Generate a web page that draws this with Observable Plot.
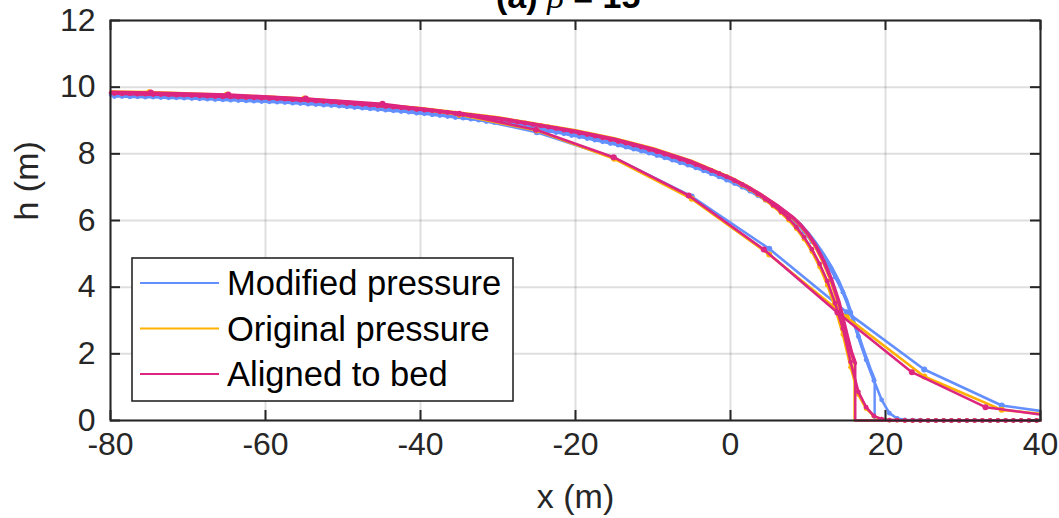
<!DOCTYPE html>
<html><head><meta charset="utf-8">
<script src="https://cdn.jsdelivr.net/npm/d3@7"></script>
<script src="https://cdn.jsdelivr.net/npm/@observablehq/plot@0.6"></script>
<style>
body{margin:0;background:#fff;}
#chart{position:relative;width:1059px;height:518px;overflow:hidden;}
</style>
</head><body><div id="chart"></div>
<script>
// ---------------- data ----------------
const seriesNames = ["Modified pressure", "Original pressure", "Aligned to bed"];
const seriesColors = ["#648FFF", "#FFB000", "#DC267F"];
const xTicks = [-80, -60, -40, -20, 0, 20, 40];
const yTicks = [0, 2, 4, 6, 8, 10, 12];
const titleText = ["(a) ", "β", " = 15°"];

// coarse grid (10 m cells)
const coarseXMod = [-85, -75, -65, -55, -45, -35, -25, -15, -5, 5, 15, 25, 35, 45];
const coarseHMod = [9.84, 9.80, 9.74, 9.63, 9.45, 9.15, 8.65, 7.88, 6.72, 5.15, 3.25, 1.53, 0.45, 0.12];
const coarseXOrig = [-85, -75, -65, -55, -45, -35, -25, -15, -5, 5, 15, 25, 35, 45];
const coarseHOrig = [9.88, 9.85, 9.77, 9.66, 9.48, 9.17, 8.70, 7.85, 6.65, 4.98, 3.10, 1.32, 0.32, 0.08];
const coarseXBed = [-85, -74.8, -64.8, -54.8, -44.9, -35, -25.1, -15.1, -5.4, 4.3, 13.8, 23.4, 32.9, 42.5];
const coarseHBed = [9.88, 9.84, 9.78, 9.66, 9.50, 9.20, 8.72, 7.90, 6.75, 5.13, 3.24, 1.45, 0.40, 0.10];

// medium grid (1 m cells, centres -79.5 ... 39.5)
const medX = d3.range(-79.5, 40, 1);
const medHMod = [
  9.72, 9.72, 9.71, 9.71, 9.70, 9.70, 9.69, 9.68, 9.68, 9.67,
  9.66, 9.65, 9.64, 9.63, 9.62, 9.61, 9.60, 9.59, 9.58, 9.57,
  9.56, 9.55, 9.54, 9.52, 9.51, 9.49, 9.48, 9.46, 9.45, 9.43,
  9.41, 9.39, 9.37, 9.35, 9.33, 9.31, 9.29, 9.27, 9.25, 9.22,
  9.20, 9.17, 9.15, 9.12, 9.09, 9.07, 9.04, 9.01, 8.97, 8.94,
  8.91, 8.87, 8.84, 8.80, 8.76, 8.72, 8.68, 8.64, 8.60, 8.55,
  8.51, 8.46, 8.41, 8.36, 8.31, 8.26, 8.20, 8.14, 8.08, 8.02,
  7.95, 7.88, 7.81, 7.73, 7.66, 7.58, 7.49, 7.40, 7.31, 7.21,
  7.11, 7.00, 6.88, 6.75, 6.61, 6.46, 6.30, 6.12, 5.92, 5.66,
  5.36, 5.03, 4.68, 4.30, 3.85, 3.25, 2.52, 1.82, 1.20, 0.62,
  0.22, 0.06, 0.02, 0.01, 0.01, 0, 0, 0, 0, 0,
  0, 0, 0, 0, 0, 0, 0, 0, 0, 0
];
const medHOrig = [
  9.82, 9.81, 9.81, 9.80, 9.80, 9.79, 9.79, 9.78, 9.77, 9.77,
  9.76, 9.75, 9.74, 9.73, 9.72, 9.72, 9.71, 9.70, 9.69, 9.68,
  9.67, 9.66, 9.65, 9.63, 9.62, 9.61, 9.59, 9.58, 9.56, 9.54,
  9.52, 9.51, 9.49, 9.47, 9.45, 9.43, 9.41, 9.39, 9.37, 9.34,
  9.32, 9.30, 9.27, 9.25, 9.22, 9.19, 9.16, 9.13, 9.10, 9.07,
  9.03, 9.00, 8.96, 8.93, 8.89, 8.85, 8.81, 8.77, 8.72, 8.68,
  8.63, 8.59, 8.54, 8.49, 8.44, 8.38, 8.33, 8.27, 8.21, 8.14,
  8.07, 8.00, 7.93, 7.85, 7.77, 7.69, 7.60, 7.51, 7.42, 7.32,
  7.19, 7.06, 6.93, 6.78, 6.61, 6.43, 6.23, 6.01, 5.75, 5.44,
  5.07, 4.61, 4.06, 3.38, 2.58, 1.60, 0.78, 0.36, 0.13, 0.04,
  0.01, 0.01, 0, 0, 0, 0, 0, 0, 0, 0,
  0, 0, 0, 0, 0, 0, 0, 0, 0, 0
];
const medHBed = [
  9.81, 9.80, 9.80, 9.79, 9.79, 9.78, 9.78, 9.77, 9.76, 9.76,
  9.75, 9.74, 9.73, 9.72, 9.71, 9.71, 9.70, 9.69, 9.68, 9.67,
  9.66, 9.65, 9.64, 9.62, 9.61, 9.60, 9.58, 9.57, 9.55, 9.53,
  9.51, 9.50, 9.48, 9.46, 9.44, 9.42, 9.40, 9.38, 9.36, 9.33,
  9.31, 9.29, 9.26, 9.24, 9.21, 9.18, 9.15, 9.12, 9.09, 9.06,
  9.02, 8.99, 8.95, 8.92, 8.88, 8.84, 8.80, 8.76, 8.71, 8.67,
  8.62, 8.58, 8.53, 8.48, 8.43, 8.37, 8.32, 8.26, 8.20, 8.13,
  8.06, 7.99, 7.92, 7.84, 7.76, 7.68, 7.59, 7.50, 7.41, 7.31,
  7.20, 7.08, 6.95, 6.80, 6.64, 6.46, 6.27, 6.06, 5.80, 5.50,
  5.14, 4.70, 4.18, 3.52, 2.76, 1.76, 0.86, 0.40, 0.14, 0.04,
  0.01, 0.01, 0, 0, 0, 0, 0, 0, 0, 0,
  0, 0, 0, 0, 0, 0, 0, 0, 0, 0
];

// fine grid (drawn as line only; sharp front)
const fineXMod = [-80, -70, -60, -50, -40, -30, -20, -15, -10, -5, 0, 2, 4, 6, 8, 9, 10, 11, 12, 13, 14, 15, 16, 17, 18, 18.6, 18.6, 40];
const fineHMod = [9.77, 9.70, 9.61, 9.47, 9.26, 8.97, 8.58, 8.34, 8.04, 7.68, 7.20, 6.97, 6.70, 6.42, 6.08, 5.88, 5.62, 5.32, 4.98, 4.60, 4.15, 3.60, 2.90, 2.20, 1.55, 1.20, 0, 0];
const fineXOrig = [-80, -70, -60, -50, -40, -30, -20, -15, -10, -5, 0, 2, 4, 6, 8, 9, 10, 11, 12, 13, 14, 15, 15.5, 16.0, 16.0, 40];
const fineHOrig = [9.84, 9.78, 9.70, 9.56, 9.36, 9.08, 8.69, 8.45, 8.15, 7.77, 7.28, 7.04, 6.76, 6.44, 6.08, 5.86, 5.57, 5.21, 4.75, 4.18, 3.45, 2.50, 2.08, 1.75, 0, 0];
const fineXBed = [-80, -70, -60, -50, -40, -30, -20, -15, -10, -5, 0, 2, 4, 6, 8, 9, 10, 11, 12, 13, 14, 15, 15.6, 16.1, 16.1, 40];
const fineHBed = [9.83, 9.77, 9.69, 9.55, 9.35, 9.07, 8.68, 8.44, 8.14, 7.76, 7.27, 7.03, 6.76, 6.45, 6.10, 5.88, 5.60, 5.25, 4.80, 4.25, 3.55, 2.60, 2.05, 1.72, 0, 0];

// ---------------- tables ----------------
const coarseX = [coarseXMod, coarseXOrig, coarseXBed];
const coarseH = [coarseHMod, coarseHOrig, coarseHBed];
const medH = [medHMod, medHOrig, medHBed];
const fineX = [fineXMod, fineXOrig, fineXBed];
const fineH = [fineHMod, fineHOrig, fineHBed];

const axisColor = "#262626";
const font = "'Liberation Sans', Arial, Helvetica, sans-serif";

const marks = [
  Plot.gridX(xTicks, {stroke: axisColor, strokeOpacity: 0.15, strokeWidth: 2}),
  Plot.gridY(yTicks, {stroke: axisColor, strokeOpacity: 0.15, strokeWidth: 2})
];

seriesNames.forEach((name, i) => {
  const color = seriesColors[i];
  const coarse = coarseX[i].map((x, j) => ({x, h: coarseH[i][j]}));
  const med = medX.map((x, j) => ({x, h: medH[i][j]}));
  const fine = fineX[i].map((x, j) => ({x, h: fineH[i][j]}));
  const fineUpper = fine.slice(0, fine.length - 2);
  marks.push(
    Plot.line(coarse, {x: "x", y: "h", stroke: color, strokeWidth: 2.6, clip: true}),
    Plot.dot(coarse, {x: "x", y: "h", fill: color, r: 3, clip: true}),
    Plot.line(med, {x: "x", y: "h", stroke: color, strokeWidth: 2.6}),
    Plot.dot(med, {x: "x", y: "h", fill: color, r: 2.4}),
    Plot.line(fine, {x: "x", y: "h", stroke: color, strokeWidth: 2.4}),
    Plot.line(fineUpper, {x: "x", y: "h", stroke: color, strokeWidth: 3.6})
  );
});

marks.push(
  Plot.frame({stroke: axisColor, strokeWidth: 2}),
  Plot.tickX(xTicks, {x: d => d, stroke: axisColor, strokeWidth: 2, insetTop: 390}),
  Plot.tickX(xTicks, {x: d => d, stroke: axisColor, strokeWidth: 2, insetBottom: 390}),
  Plot.tickY(yTicks, {y: d => d, stroke: axisColor, strokeWidth: 2, insetRight: 920}),
  Plot.tickY(yTicks, {y: d => d, stroke: axisColor, strokeWidth: 2, insetLeft: 920}),
  Plot.axisX({ticks: xTicks, tickSize: 0, tickPadding: 12, tickFormat: d => String(d), fontSize: 32, label: null, fill: axisColor}),
  Plot.axisY({ticks: yTicks, tickSize: 0, tickPadding: 15, tickFormat: d => String(d), fontSize: 32, label: null, fill: axisColor}),
  Plot.text(["x (m)"], {frameAnchor: "bottom", dy: 77, fontSize: 34, fill: axisColor, lineAnchor: "middle"}),
  Plot.text(["h (m)"], {frameAnchor: "left", dx: -83, rotate: -90, fontSize: 34, fill: axisColor, lineAnchor: "middle"})
);

const plot = Plot.plot({
  width: 1059,
  height: 518,
  marginLeft: 110,
  marginRight: 19,
  marginTop: 20,
  marginBottom: 98,
  x: {domain: [-80, 40]},
  y: {domain: [0, 12]},
  style: {fontFamily: font, background: "white", color: axisColor, overflow: "visible"},
  marks
});

const svg = d3.select(plot);

// title (partly outside the top of the picture, as in the reference)
const t = svg.append("text")
  .attr("x", 575).attr("y", 8)
  .attr("text-anchor", "middle")
  .attr("font-family", font)
  .attr("font-size", 34)
  .attr("font-weight", "bold")
  .attr("fill", "#000");
t.append("tspan").text(titleText[0]);
t.append("tspan").attr("font-family", "'Liberation Serif', 'DejaVu Serif', serif").attr("font-style", "italic").attr("font-weight", "normal").text(titleText[1]);
t.append("tspan").text(titleText[2]);

// legend
const lg = svg.append("g").attr("text-anchor", "start");
lg.append("rect").attr("x", 132).attr("y", 258).attr("width", 381).attr("height", 143)
  .attr("fill", "white").attr("stroke", axisColor).attr("stroke-width", 1.6);
seriesNames.forEach((name, i) => {
  const yy = 283 + i * 45.5;
  lg.append("line").attr("x1", 140).attr("x2", 219).attr("y1", yy).attr("y2", yy)
    .attr("stroke", seriesColors[i]).attr("stroke-width", 2.2);
  lg.append("text").attr("x", 227).attr("y", yy).attr("dy", "0.36em")
    .attr("text-anchor", "start")
    .attr("font-family", font).attr("font-size", 34.5).attr("fill", "#000").text(name);
});

document.getElementById("chart").appendChild(plot);
</script>
</body></html>
